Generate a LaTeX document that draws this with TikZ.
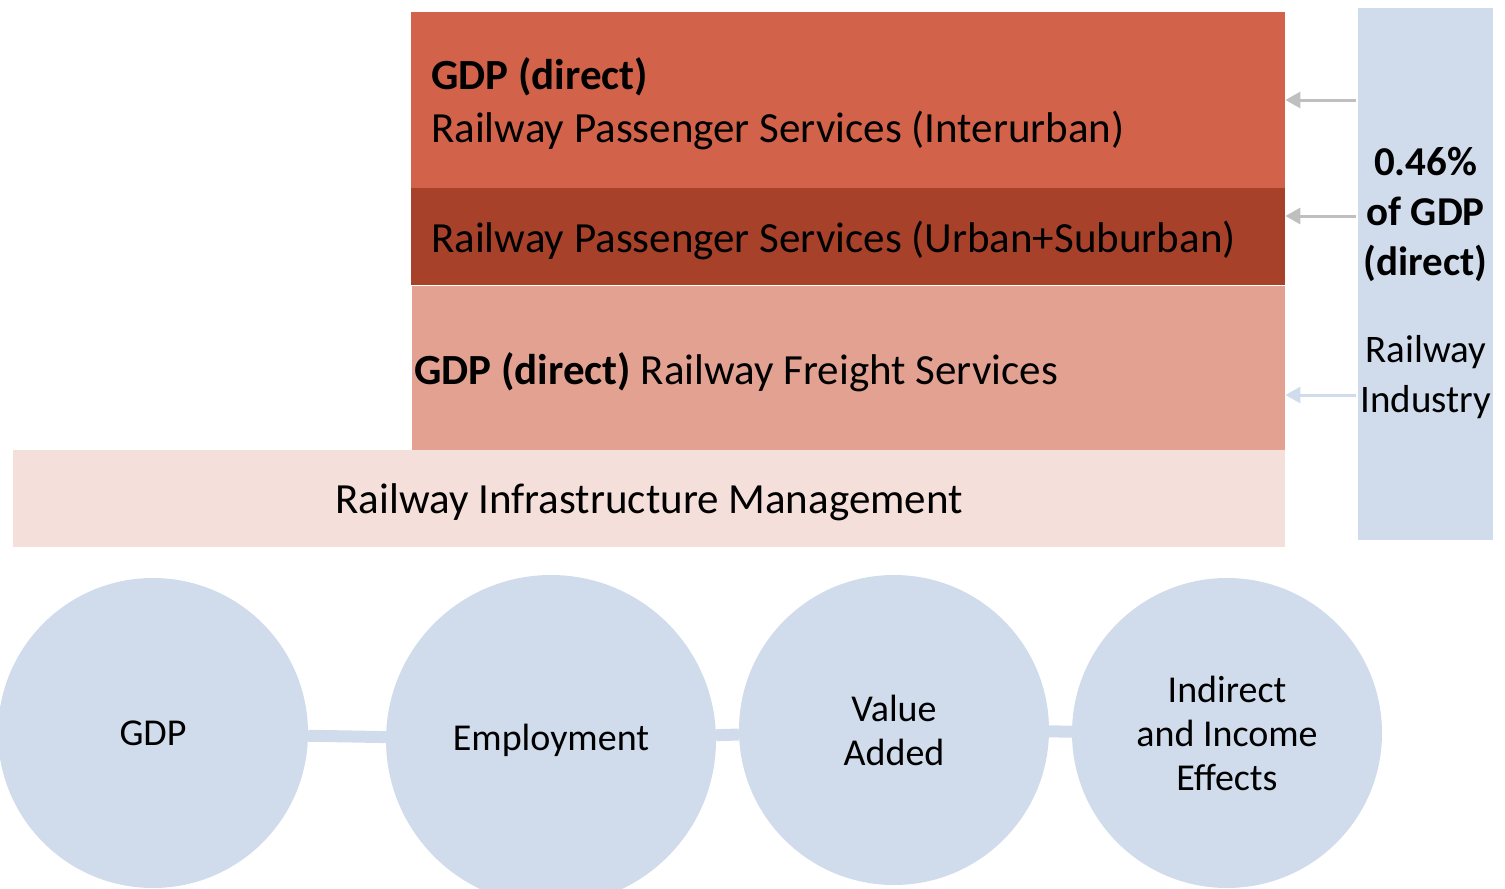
\documentclass[tikz,border=0pt]{standalone}
\usepackage{fontspec}
\setmainfont{Carlito}
\usepackage{tikz}
\usetikzlibrary{arrows.meta, positioning}
\definecolor{interurban}{HTML}{D2634A}
\definecolor{urban}{HTML}{A8412A}
\definecolor{freight}{HTML}{E2A191}
\definecolor{infra}{HTML}{F5DFDA}
\definecolor{paleblue}{HTML}{D0DCEB}
\definecolor{arrowgray}{HTML}{BFBFBF}
\tikzset{
    layer/.style={
        rectangle,
        anchor=north west,
        inner sep=0pt,
        font=\fontsize{43}{53}\selectfont
    },
    caption/.style={
        anchor=west,
        inner sep=0pt,
        yshift=-4pt,
        align=left,
        font=\fontsize{43}{53}\selectfont
    },
    metric/.style={
        circle,
        fill=paleblue,
        inner sep=0pt,
        align=center,
        font=\fontsize{38}{44}\selectfont
    },
    feed/.style={
        -{Triangle[length=15pt,width=16pt]},
        line width=3pt,
        draw=arrowgray
    },
    link/.style={
        line width=12pt,
        draw=paleblue
    }
}

\begin{document}
\begin{tikzpicture}[x=1pt,y=-1pt]
	\useasboundingbox (0,0) rectangle (1505,889);
	% stacked layers
	\node[layer,fill=interurban,minimum width=874pt,minimum height=176pt] (inter) at (411,12) {};
	\node[layer,fill=urban,minimum width=874pt,minimum height=97pt] (urban) at (411,188) {};
	\node[layer,fill=freight,minimum width=873pt,minimum height=164pt] (freight) at (412,286) {};
	\node[layer,fill=infra,minimum width=1272pt,minimum height=97pt] (infra) at (13,450) {};
	\node[caption,right=20pt of inter.west] (inter-text)
	      {\textbf{GDP (direct)}\\Railway Passenger Services (Interurban)};
	\node[caption,right=20pt of urban.west] (urban-text)
	      {Railway Passenger Services (Urban+Suburban)};
	\node[caption,right=2pt of freight.west] (freight-text)
	      {\textbf{GDP (direct)} Railway Freight Services};
	\node[caption,anchor=center] (infra-text) at (infra.center)
	      {Railway Infrastructure Management};
	% side panel
	\node[layer,fill=paleblue,minimum width=135pt,minimum height=532pt] (panel) at (1358,8) {};
	\node[align=center,inner sep=0pt,font=\bfseries\fontsize{41}{50}\selectfont]
	      (panel-text) at ([yshift=-9pt]panel.center)
	      {0.46\%\\of GDP\\(direct)\\[37pt]
	       \mdseries\fontsize{39}{45}\selectfont Railway\\
	       \mdseries\fontsize{39}{45}\selectfont Industry};
	\coordinate (p1) at (1356,100);
	\coordinate (p2) at (1356,216);
	\coordinate (p3) at (1356,395);
	\draw[feed] (p1) -- (inter.east |- p1);
	\draw[feed] (p2) -- (urban.east |- p2);
	\draw[feed,draw=paleblue] (p3) -- (freight.east |- p3);
	% effect circles
	\node[metric,minimum size=310pt] (gdp) at (153,733) {GDP};
	\node[metric,minimum size=330pt] (emp) at (551,740) {Employment};
	\node[metric,minimum size=310pt] (va) at (894,730) {Value\\Added};
	\node[metric,minimum size=310pt] (ind) at (1227,733) {Indirect\\and Income\\Effects};
	\draw[link] (gdp) -- (emp);
	\draw[link] (emp) -- (va);
	\draw[link] (va) -- (ind);
\end{tikzpicture}
\end{document}
